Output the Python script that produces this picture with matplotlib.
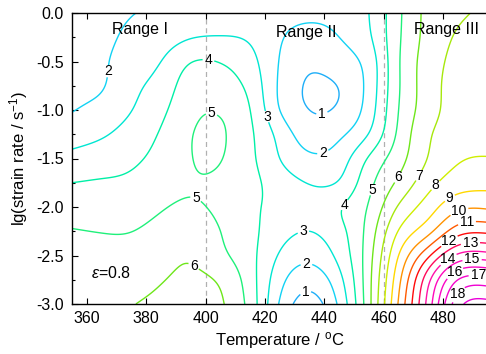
import numpy as np
import matplotlib
matplotlib.use('Agg')
import matplotlib.pyplot as plt
from matplotlib.ticker import MultipleLocator

plt.rcParams['font.family'] = ['Liberation Sans', 'DejaVu Sans']
plt.rcParams['mathtext.fontset'] = 'custom'
plt.rcParams['mathtext.rm'] = 'Liberation Sans'
plt.rcParams['mathtext.it'] = 'Liberation Sans:italic'

temperature = [355, 365, 375, 385, 395, 405, 415, 425, 435, 445, 455, 465, 475, 485, 495]
log_rate = [0.0, -0.25, -0.5, -0.75, -1.0, -1.25, -1.5, -1.75, -2.0, -2.25, -2.5, -2.75, -3.0]

row_000 = [1.30, 1.55, 1.95, 2.20, 2.40, 2.45, 2.35, 2.30, 2.20, 2.30, 3.00, 4.80, 6.27, 6.85, 7.20]
row_025 = [1.45, 1.70, 2.25, 2.55, 2.95, 3.05, 2.85, 2.10, 1.70, 2.00, 2.85, 4.85, 6.33, 7.10, 7.40]
row_050 = [1.60, 1.85, 2.50, 3.00, 3.95, 3.95, 3.32, 1.95, 1.20, 1.55, 2.45, 4.90, 6.45, 7.30, 7.50]
row_075 = [1.80, 1.93, 2.74, 3.40, 4.50, 4.45, 3.70, 1.85, 0.90, 1.05, 2.35, 4.90, 6.50, 7.45, 7.65]
row_100 = [1.96, 2.34, 2.98, 3.77, 4.75, 4.90, 4.00, 2.00, 1.00, 1.15, 2.50, 5.00, 6.55, 7.50, 7.75]
row_125 = [2.58, 2.89, 3.40, 4.10, 4.95, 5.10, 4.17, 2.65, 1.50, 1.80, 3.05, 5.20, 6.85, 7.60, 7.85]
row_150 = [3.27, 3.50, 3.80, 4.35, 4.97, 5.03, 4.23, 3.00, 2.20, 2.50, 4.10, 5.60, 7.05, 7.90, 8.03]
row_175 = [4.00, 4.09, 4.22, 4.66, 4.95, 4.85, 4.30, 3.50, 2.95, 3.10, 4.70, 6.20, 7.64, 8.50, 8.68]
row_200 = [4.52, 4.54, 4.62, 4.93, 5.10, 4.80, 4.20, 3.70, 3.40, 3.90, 5.10, 7.10, 8.50, 9.75, 9.86]
row_225 = [5.05, 4.97, 4.99, 5.30, 5.55, 5.00, 4.26, 3.40, 3.00, 3.70, 5.40, 8.05, 9.70, 11.55, 11.80]
row_250 = [5.30, 5.30, 5.30, 5.65, 5.90, 5.25, 4.30, 2.90, 2.30, 3.30, 5.60, 9.00, 11.80, 14.20, 14.40]
row_275 = [5.40, 5.45, 5.60, 5.95, 6.15, 5.85, 4.45, 2.35, 1.40, 2.70, 5.70, 9.70, 13.70, 17.00, 17.40]
row_300 = [5.45, 5.60, 5.95, 6.20, 6.30, 6.10, 4.60, 1.90, 0.60, 2.20, 5.70, 10.10, 14.40, 18.60, 19.30]

grid_rows = [row_000, row_025, row_050, row_075, row_100, row_125, row_150,
             row_175, row_200, row_225, row_250, row_275, row_300]

levels = list(range(1, 20))
level_colors = ['#1eaef8', '#12d2f4', '#00e6d2', '#00efa6', '#1ff07a', '#6ee61a',
                '#a6e80c', '#cfee00', '#ffd800', '#ff9200', '#ff5a00', '#ff0a0a',
                '#ff0a5a', '#ff10a8', '#ff08bc', '#fb06c6', '#f604cc', '#f002d2', '#ea00d8']

label_levels = [1, 2, 2, 3, 4, 5, 5, 6, 3, 2, 1, 4, 5, 6, 7, 8, 9, 10, 11, 12, 13,
                14, 15, 16, 17, 18]
label_T = [439.3, 439.3, 368.8, 422.5, 400.9, 402.2, 397.2, 395.5, 432.9, 433.9, 433.6,
           446.4, 456.2, 463.9, 471.7, 477.1, 482.1, 485.2, 487.9, 480.8, 489.2,
           481.1, 489.9, 483.8, 491.9, 483.2]
label_lg = [-1.03, -1.43, -0.61, -1.05, -0.505, -0.93, -1.89, -2.63, -2.26, -2.61, -2.85,
            -1.97, -1.82, -1.68, -1.67, -1.77, -1.90, -2.03, -2.15, -2.30, -2.39,
            -2.51, -2.57, -2.67, -2.74, -2.86]

range_bounds = [400, 460]
range_names = ['Range I', 'Range II', 'Range III']
range_T = [378, 434, 481]
range_lg = [-0.17, -0.2, -0.17]


def natural_spline(x, Y, xn):
    x = np.asarray(x, float)
    Y = np.asarray(Y, float)
    n = len(x)
    h = np.diff(x)
    A = np.zeros((n, n))
    R = np.zeros(Y.shape)
    A[0, 0] = A[-1, -1] = 1.0
    for i in range(1, n - 1):
        A[i, i - 1] = h[i - 1]
        A[i, i] = 2 * (h[i - 1] + h[i])
        A[i, i + 1] = h[i]
        R[i] = 6 * ((Y[i + 1] - Y[i]) / h[i] - (Y[i] - Y[i - 1]) / h[i - 1])
    M = np.linalg.solve(A, R)
    j = np.clip(np.searchsorted(x, xn) - 1, 0, n - 2)
    hj = h[j]
    a = (x[j + 1] - xn) / hj
    b = (xn - x[j]) / hj
    shp = (-1,) + (1,) * (Y.ndim - 1)
    a = a.reshape(shp); b = b.reshape(shp); hj = hj.reshape(shp)
    return a * Y[j] + b * Y[j + 1] + ((a ** 3 - a) * M[j] + (b ** 3 - b) * M[j + 1]) * hj ** 2 / 6


Z = np.array(grid_rows)                     # (n_lg, n_T)
T_fine = np.linspace(temperature[0], temperature[-1], 400)
lg_asc = np.array(log_rate[::-1])
lg_fine = np.linspace(lg_asc[0], lg_asc[-1], 300)
Zt = natural_spline(temperature, Z.T, T_fine)          # (nTf, n_lg)
Zf = natural_spline(lg_asc, Zt[:, ::-1].T, lg_fine)    # (nlgf, nTf)

fig = plt.figure(figsize=(4.86, 3.54), dpi=100)
ax = fig.add_axes([72 / 486, 50 / 354, 140 * 2.969 / 486, 291 / 354])

for xb in range_bounds:
    ax.axvline(xb, color='#b0b0b0', lw=0.9, ls=(0, (4, 3)), zorder=1)

cs = ax.contour(T_fine, lg_fine, Zf, levels=levels, colors=level_colors,
                linewidths=1.0, zorder=2)

ax.set_xlim(355, 495)
ax.set_ylim(-3.0, 0.0)

# snap each requested label point onto its own contour level, then label there
to_px = ax.transData.transform
manual_pts = []
for lev, tx, ly in zip(label_levels, label_T, label_lg):
    k = levels.index(lev)
    segs = [s for s in cs.allsegs[k] if len(s)]
    if not segs:
        continue
    verts = np.vstack(segs)
    d = np.hypot(*(to_px(verts) - to_px([[tx, ly]])).T)
    manual_pts.append(tuple(verts[np.argmin(d)]))

ax.clabel(cs, manual=manual_pts, inline=True, inline_spacing=2,
          fontsize=10, colors='k', fmt='%d')
for t in cs.labelTexts:
    t.set_rotation(0)

for name, tx, ly in zip(range_names, range_T, range_lg):
    ax.text(tx, ly, name, ha='center', va='center', fontsize=11.5)

ax.text(361.4, -2.68, r'$\it{\varepsilon}$=0.8', ha='left', va='center', fontsize=11.5)

ax.set_xticks([360, 380, 400, 420, 440, 460, 480])
ax.set_yticks([0.0, -0.5, -1.0, -1.5, -2.0, -2.5, -3.0])
ax.set_yticklabels(['0.0', '-0.5', '-1.0', '-1.5', '-2.0', '-2.5', '-3.0'])
ax.yaxis.set_minor_locator(MultipleLocator(0.25))
ax.tick_params(which='major', direction='in', length=4, width=0.8, labelsize=11.5,
               top=True, right=False, pad=5)
ax.tick_params(which='minor', direction='in', length=2.5, width=0.8, right=False)
ax.tick_params(axis='y', pad=6)
for s in ax.spines.values():
    s.set_linewidth(1.0)

ax.set_xlabel(r'Temperature / $^{\rm o}$C', fontsize=12, labelpad=3)
ax.set_ylabel(r'lg(strain rate / s$^{-1}$)', fontsize=12, labelpad=4)

fig.savefig('out.png', dpi=100)
